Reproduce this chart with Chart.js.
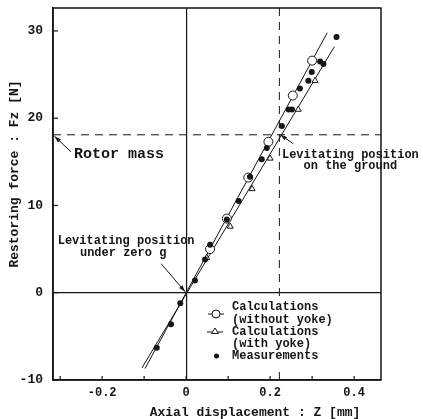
<!DOCTYPE html>
<html>
<head>
<meta charset="utf-8">
<script src="https://cdn.jsdelivr.net/npm/chart.js@4/dist/chart.umd.min.js"></script>
<style>
  html, body { margin: 0; padding: 0; background: #fff; }
  #wrap { width: 423px; height: 419px; position: relative; }
</style>
</head>
<body>
<div id="wrap"><canvas id="chart"></canvas></div>
<script>
// --- data ---
var circX = [0.057, 0.097, 0.148, 0.196, 0.254, 0.300];
var circY = [5.0, 8.5, 13.2, 17.3, 22.6, 26.6];
var triX = [0.049, 0.105, 0.157, 0.200, 0.267, 0.307];
var triY = [4.0, 7.6, 11.9, 15.4, 21.0, 24.3];
var measX = [-0.070, -0.036, -0.014, 0.021, 0.045, 0.057, 0.097, 0.125, 0.152, 0.180,
             0.192, 0.228, 0.244, 0.252, 0.271, 0.291, 0.299, 0.319, 0.327, 0.358];
var measY = [-6.3, -3.6, -1.2, 1.4, 3.8, 5.5, 8.4, 10.5, 13.3, 15.3,
             16.6, 19.1, 21.0, 21.0, 23.4, 24.3, 25.3, 26.5, 26.2, 29.3];
// calculated curves (end points)
var lineNoYokeX = [-0.098, 0.336];
var lineNoYokeY = [-8.7, 29.8];
var lineYokeX = [-0.105, 0.353];
var lineYokeY = [-8.6, 28.2];
var rotorMass = 18.1;      // N
var groundPos = 0.222;     // mm
var xMin = -0.317, xMax = 0.464;
var yMin = -10, yMax = 32.63;
var xLabels = [-0.2, 0, 0.2, 0.4];
var yLabels = [-10, 0, 10, 20, 30];
var xTickVals = [-0.3, -0.2, -0.1, 0, 0.1, 0.2, 0.3, 0.4];
var yTickVals = [-10, 0, 10, 20, 30];

var FONT = "'Liberation Mono', 'DejaVu Sans Mono', monospace";
var INK = '#151515';

function pts(xs, ys) {
  var out = [];
  for (var i = 0; i < xs.length; i++) out.push({x: xs[i], y: ys[i]});
  return out;
}

function arrow(ctx, x1, y1, x2, y2) {
  var a = Math.atan2(y2 - y1, x2 - x1), L = 7, w = 0.3;
  ctx.beginPath();
  ctx.moveTo(x1, y1);
  ctx.lineTo(x2, y2);
  ctx.stroke();
  ctx.beginPath();
  ctx.moveTo(x2, y2);
  ctx.lineTo(x2 - L * Math.cos(a - w), y2 - L * Math.sin(a - w));
  ctx.lineTo(x2 - L * Math.cos(a + w), y2 - L * Math.sin(a + w));
  ctx.closePath();
  ctx.fill();
}

var decor = {
  id: 'decor',
  afterDraw: function(chart) {
    var ctx = chart.ctx, ca = chart.chartArea;
    var xs = chart.scales.x, ys = chart.scales.y;
    ctx.save();

    // legend backdrop (hides the dashed line behind the legend)
    ctx.fillStyle = '#fff';
    ctx.fillRect(ca.left + 150, ca.top + 291, 170, 69);

    ctx.strokeStyle = INK;
    ctx.fillStyle = INK;

    // frame (top / right)
    ctx.lineWidth = 1.5;
    ctx.strokeRect(ca.left, ca.top, ca.right - ca.left, ca.bottom - ca.top);

    // inward ticks
    ctx.lineWidth = 1.2;
    xTickVals.forEach(function(v) {
      var px = xs.getPixelForValue(v);
      ctx.beginPath(); ctx.moveTo(px, ca.bottom); ctx.lineTo(px, ca.bottom - 4); ctx.stroke();
    });
    yTickVals.forEach(function(v) {
      var py = ys.getPixelForValue(v);
      ctx.beginPath(); ctx.moveTo(ca.left, py); ctx.lineTo(ca.left + 5, py); ctx.stroke();
    });

    // annotations
    ctx.lineWidth = 1;
    var rx = ca.left, ry = ys.getPixelForValue(rotorMass);
    arrow(ctx, rx + 18, ry + 17, rx + 1.5, ry + 1.5);
    ctx.font = 'bold 15px ' + FONT;
    ctx.textAlign = 'left';
    ctx.textBaseline = 'middle';
    ctx.fillText('Rotor mass', rx + 21, ry + 19);

    var gx = xs.getPixelForValue(groundPos), gy = ry;
    arrow(ctx, gx + 14, gy + 9, gx + 1, gy);
    ctx.font = 'bold 12px ' + FONT;
    ctx.textAlign = 'center';
    ctx.fillText('Levitating position', gx + 71, gy + 20);
    ctx.fillText('on the ground', gx + 71, gy + 31);

    var ox = xs.getPixelForValue(0), oy = ys.getPixelForValue(0);
    arrow(ctx, ox - 25, oy - 29, ox - 1, oy - 1);
    ctx.fillText('Levitating position', ox - 60, oy - 52);
    ctx.fillText('under zero g', ox - 63, oy - 40);

    // legend
    var lx = ca.left + 163;
    ctx.lineWidth = 1;
    ctx.beginPath(); ctx.moveTo(lx - 8, ca.top + 306); ctx.lineTo(lx + 8, ca.top + 306); ctx.stroke();
    ctx.beginPath(); ctx.arc(lx, ca.top + 306, 4, 0, Math.PI * 2);
    ctx.fillStyle = '#fff'; ctx.fill(); ctx.stroke();
    ctx.fillStyle = INK;
    ctx.beginPath(); ctx.moveTo(lx - 9, ca.top + 324); ctx.lineTo(lx + 7, ca.top + 324); ctx.stroke();
    ctx.beginPath();
    ctx.moveTo(lx - 1, ca.top + 320); ctx.lineTo(lx + 2.5, ca.top + 325.5); ctx.lineTo(lx - 4.5, ca.top + 325.5);
    ctx.closePath(); ctx.fillStyle = '#fff'; ctx.fill(); ctx.stroke();
    ctx.fillStyle = INK;
    ctx.beginPath(); ctx.arc(lx + 0.5, ca.top + 348, 2.5, 0, Math.PI * 2); ctx.fill();
    ctx.textAlign = 'left';
    var tx = ca.left + 179;
    ctx.fillText('Calculations', tx, ca.top + 299);
    ctx.fillText('(without yoke)', tx, ca.top + 312);
    ctx.fillText('Calculations', tx, ca.top + 324);
    ctx.fillText('(with yoke)', tx, ca.top + 336);
    ctx.fillText('Measurements', tx, ca.top + 348);

    // axis titles
    ctx.font = 'bold 13px ' + FONT;
    ctx.textAlign = 'center';
    ctx.fillText('Axial displacement : Z [mm]', 255, ca.bottom + 33);
    ctx.translate(15, 174);
    ctx.rotate(-Math.PI / 2);
    ctx.fillText('Restoring force : Fz [N]', 0, 0);
    ctx.restore();
  }
};

function zeroGrid(c) {
  return (c.tick && Math.abs(c.tick.value) < 1e-9) ? INK : 'rgba(0,0,0,0)';
}

var ctx = document.getElementById('chart').getContext('2d');
var chart = new Chart(ctx, {
  type: 'scatter',
  data: {
    datasets: [
      { label: 'Calculations (without yoke)', data: pts(circX, circY), order: 0,
        pointStyle: 'circle', pointRadius: 4.5, borderWidth: 1,
        borderColor: INK, backgroundColor: '#fff' },
      { label: 'Calculations (with yoke)', data: pts(triX, triY), order: 0,
        pointStyle: 'triangle', pointRadius: 3.5, borderWidth: 1,
        borderColor: INK, backgroundColor: '#fff' },
      { label: 'Measurements', data: pts(measX, measY), order: -1,
        pointStyle: 'circle', pointRadius: 3, borderWidth: 0,
        borderColor: INK, backgroundColor: INK },
      { label: 'calc line 1', data: pts(lineNoYokeX, lineNoYokeY), order: 2,
        showLine: true, pointRadius: 0, borderWidth: 1, borderColor: INK },
      { label: 'calc line 2', data: pts(lineYokeX, lineYokeY), order: 2,
        showLine: true, pointRadius: 0, borderWidth: 1, borderColor: INK },
      { label: 'rotor mass', data: [{x: xMin, y: rotorMass}, {x: xMax, y: rotorMass}], order: 3,
        showLine: true, pointRadius: 0, borderWidth: 1, borderColor: INK, borderDash: [8, 6] },
      { label: 'ground', data: [{x: groundPos, y: yMin}, {x: groundPos, y: yMax}], order: 3,
        showLine: true, pointRadius: 0, borderWidth: 1, borderColor: INK, borderDash: [8, 6] }
    ]
  },
  options: {
    responsive: true,
    maintainAspectRatio: false,
    animation: false,
    devicePixelRatio: 1,
    layout: { padding: { left: 0, top: 8, right: 42, bottom: 0 } },
    plugins: { legend: { display: false }, tooltip: { enabled: false } },
    scales: {
      x: {
        type: 'linear', min: xMin, max: xMax,
        afterFit: function(s) { s.height = 39; s.paddingLeft = 0; s.paddingRight = 0; },
        grid: { color: zeroGrid, lineWidth: 1.2, drawTicks: false },
        border: { display: true, color: INK, width: 1.5 },
        ticks: {
          stepSize: 0.1, padding: 6, color: INK, maxRotation: 0, autoSkip: false,
          includeBounds: false,
          font: { family: FONT, size: 12, weight: 'bold' },
          callback: function(v) {
            var r = Math.round(v * 10) / 10;
            if (Math.abs(v - r) > 1e-6 || xLabels.indexOf(r) < 0) return '';
            return r === 0 ? '0' : r.toFixed(1);
          }
        }
      },
      y: {
        type: 'linear', min: yMin, max: yMax,
        afterFit: function(s) { s.width = 53; s.paddingTop = 0; s.paddingBottom = 0; },
        grid: { color: zeroGrid, lineWidth: 1.2, drawTicks: false },
        border: { display: true, color: INK, width: 1.5 },
        ticks: {
          stepSize: 10, padding: 10, color: INK, autoSkip: false,
          includeBounds: false,
          font: { family: FONT, size: 13, weight: 'bold' },
          callback: function(v) { return yLabels.indexOf(v) >= 0 ? String(v) : ''; }
        }
      }
    }
  },
  plugins: [decor]
});
</script>
</body>
</html>
